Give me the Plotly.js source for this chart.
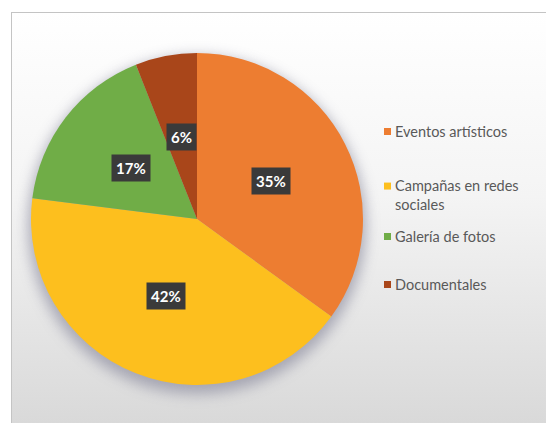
<!DOCTYPE html>
<html>
<head>
<meta charset="utf-8">
<script src="https://cdn.plot.ly/plotly-3.0.1.min.js"></script>
<style>
  html, body { margin: 0; padding: 0; background: #ffffff; }
  #chart { width: 546px; height: 423px; }
</style>
</head>
<body>
<div id="chart"></div>
<script>
// ---- data ----
const categories = ["Eventos artísticos", "Campañas en redes sociales", "Galería de fotos", "Documentales"];
const values = [35, 42, 17, 6];
const sliceColors = ["#ED7D31", "#FDBF1E", "#70AD47", "#A9461A"];

// ---- layout constants ----
const W = 546, H = 423;
const pieDomain = { x: [31 / W, 363 / W], y: [(H - 385) / H, (H - 53) / H] };
const legendRowY = [131, 195, 236, 284];   // pixel rows of legend entries (from top)
const legendX = 384;                       // left of legend swatch (px)
const legendFontSize = 14.5;
const legendLineH = legendFontSize * 1.3;

const total = values.reduce((a, b) => a + b, 0);
const cxPx = (pieDomain.x[0] + pieDomain.x[1]) / 2 * W;
const cyPx = H - (pieDomain.y[0] + pieDomain.y[1]) / 2 * H;
const rPx = Math.min((pieDomain.x[1] - pieDomain.x[0]) * W, (pieDomain.y[1] - pieDomain.y[0]) * H) / 2;

// background image (gradient + frame + soft pie shadow)
const bgSvg =
  `<svg xmlns="http://www.w3.org/2000/svg" width="${W}" height="${H}">` +
  `<defs><linearGradient id="g" x1="0" y1="0" x2="0" y2="1">` +
  `<stop offset="0" stop-color="#ffffff"/><stop offset="0.45" stop-color="#f4f4f4"/><stop offset="1" stop-color="#d9d9d9"/>` +
  `</linearGradient><filter id="b" x="-20%" y="-20%" width="140%" height="140%"><feGaussianBlur stdDeviation="7"/></filter></defs>` +
  `<rect x="0" y="0" width="${W}" height="${H}" fill="#ffffff"/>` +
  `<rect x="11" y="12" width="${W - 11}" height="${H - 12}" fill="url(#g)"/>` +
  `<circle cx="${cxPx}" cy="${cyPx + 6}" r="${rPx + 3}" fill="#8e8ea0" opacity="0.7" filter="url(#b)"/>` +
  `<line x1="11" y1="12.5" x2="${W}" y2="12.5" stroke="#c4c4c4" stroke-width="1"/>` +
  `<line x1="11.5" y1="12" x2="11.5" y2="${H}" stroke="#c4c4c4" stroke-width="1"/>` +
  `</svg>`;

// percentage labels at half radius along each slice's mid angle
const annotations = [];
const shapes = [];
let cum = 0;
values.forEach((v, i) => {
  const mid = (cum + v / 2) / total * 2 * Math.PI;
  cum += v;
  const px = cxPx + 0.5 * rPx * Math.sin(mid);
  const py = cyPx - 0.5 * rPx * Math.cos(mid);
  annotations.push({
    xref: "paper", yref: "paper",
    x: px / W, y: 1 - py / H,
    text: "<b>" + Math.round(v / total * 100) + "%</b>",
    showarrow: false,
    font: { family: "Lato, 'Open Sans', sans-serif", size: 15, color: "#ffffff" },
    bgcolor: "#3a3a3a",
    borderpad: 4,
    xanchor: "center", yanchor: "middle"
  });
});

// legend built from categories
function wrap(s, n) {
  if (s.length <= n) return s;
  const cut = s.lastIndexOf(" ", n);
  return s.slice(0, cut) + "<br>" + s.slice(cut + 1);
}
categories.forEach((c, i) => {
  const txt = wrap(c, 18);
  const lines = txt.split("<br>").length;
  const yc = legendRowY[i];
  const firstLineY = yc - (lines - 1) * legendLineH / 2;
  shapes.push({
    type: "rect", xref: "paper", yref: "paper",
    x0: legendX / W, x1: (legendX + 7) / W,
    y0: 1 - (firstLineY + 4) / H, y1: 1 - (firstLineY - 3) / H,
    fillcolor: sliceColors[i], line: { width: 0 }
  });
  annotations.push({
    xref: "paper", yref: "paper",
    x: (legendX + 9) / W, y: 1 - yc / H,
    text: txt, showarrow: false, align: "left",
    xanchor: "left", yanchor: "middle",
    font: { family: "Lato, 'Open Sans', sans-serif", size: legendFontSize, color: "#595959" }
  });
});

const trace = {
  type: "pie",
  labels: categories,
  values: values,
  sort: false,
  direction: "clockwise",
  rotation: 0,
  marker: { colors: sliceColors, line: { width: 0 } },
  textinfo: "none",
  hoverinfo: "label+percent",
  domain: pieDomain,
  showlegend: false
};

const layout = {
  width: W, height: H,
  margin: { l: 0, r: 0, t: 0, b: 0 },
  paper_bgcolor: "rgba(0,0,0,0)",
  showlegend: false,
  annotations: annotations,
  shapes: shapes,
  images: [{
    source: "data:image/svg+xml;charset=utf-8," + encodeURIComponent(bgSvg),
    xref: "paper", yref: "paper", x: 0, y: 1, sizex: 1, sizey: 1,
    xanchor: "left", yanchor: "top", sizing: "stretch", layer: "below"
  }]
};

Plotly.newPlot("chart", [trace], layout, { displayModeBar: false, staticPlot: true });
</script>
</body>
</html>
